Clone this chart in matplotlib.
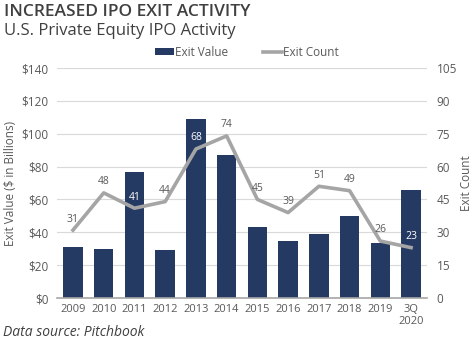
import numpy as np
import matplotlib.pyplot as plt

plt.rcParams['font.family'] = ['Open Sans', 'DejaVu Sans']

years = ['2009', '2010', '2011', '2012', '2013', '2014', '2015', '2016',
         '2017', '2018', '2019', '3Q\n2020']
exit_value = [31, 30, 77, 29, 109, 87, 43, 35, 39, 50, 33.5, 66]
exit_count = [31, 48, 41, 44, 68, 74, 45, 39, 51, 49, 26, 23]
inside_bar = [False, False, True, False, True, False, False, False,
              False, False, False, True]

navy = '#253a63'
gray_line = '#a5a5a5'
txt = '#595959'

fig = plt.figure(figsize=(4.75, 3.4), dpi=100)
ax = fig.add_axes([0.12, 0.1235, 0.779, 0.6765])
x = np.arange(len(years))

ax.bar(x, exit_value, width=0.63, color=navy, label='Exit Value', zorder=2)
ax.set_ylim(0, 140)
ax.set_yticks(range(0, 141, 20))
ax.set_yticklabels(['$%d' % v for v in range(0, 141, 20)])
ax.set_xlim(-0.52, 11.52)
ax.set_xticks(x)
ax.set_xticklabels(years)
ax.grid(axis='y', color='#d9d9d9', linewidth=0.8, zorder=0)
ax.set_axisbelow(True)
for s in ['top', 'right', 'left']:
    ax.spines[s].set_visible(False)
ax.spines['bottom'].set_color('#a6a6a6')
ax.spines['bottom'].set_linewidth(1.2)
ax.tick_params(axis='x', length=0, labelsize=8, colors=txt, pad=4)
ax.tick_params(axis='y', length=0, labelsize=8.5, colors=txt, pad=6)
ax.set_ylabel('Exit Value ($ in Billions)', fontsize=8.5, color=txt, labelpad=3)

ax2 = ax.twinx()
ax2.plot(x, exit_count, color=gray_line, linewidth=2.6, label='Exit Count',
         zorder=3)
ax2.set_ylim(0, 105)
ax2.set_yticks(range(0, 106, 15))
for s in ['top', 'right', 'left', 'bottom']:
    ax2.spines[s].set_visible(False)
ax2.tick_params(length=0, labelsize=8.5, colors=txt, pad=7)
ax2.set_ylabel('Exit Count', fontsize=8.5, color=txt, labelpad=2)

for xi, c, inb in zip(x, exit_count, inside_bar):
    ax2.annotate(str(c), (xi, c), xytext=(0, 4), textcoords='offset points',
                 ha='center', va='bottom', fontsize=7.5,
                 color='white' if inb else txt)

h1, l1 = ax.get_legend_handles_labels()
h2, l2 = ax2.get_legend_handles_labels()
fig.legend(h1 + h2, l1 + l2, loc='center', bbox_to_anchor=(0.52, 0.847),
           ncol=2, frameon=False, fontsize=8.5, labelcolor=txt,
           handlelength=1.6, handleheight=0.5, columnspacing=3.0,
           handletextpad=0.1)

fig.text(0.008, 0.965, 'INCREASED IPO EXIT ACTIVITY', fontsize=12.5,
         fontweight='semibold', color='#404040', va='center')
fig.text(0.008, 0.91, 'U.S. Private Equity IPO Activity', fontsize=12,
         color='#404040', va='center')
fig.text(0.006, 0.022, 'Data source: Pitchbook', fontsize=10,
         style='italic', color='#404040', va='center')

fig.savefig('out.png', dpi=100)
